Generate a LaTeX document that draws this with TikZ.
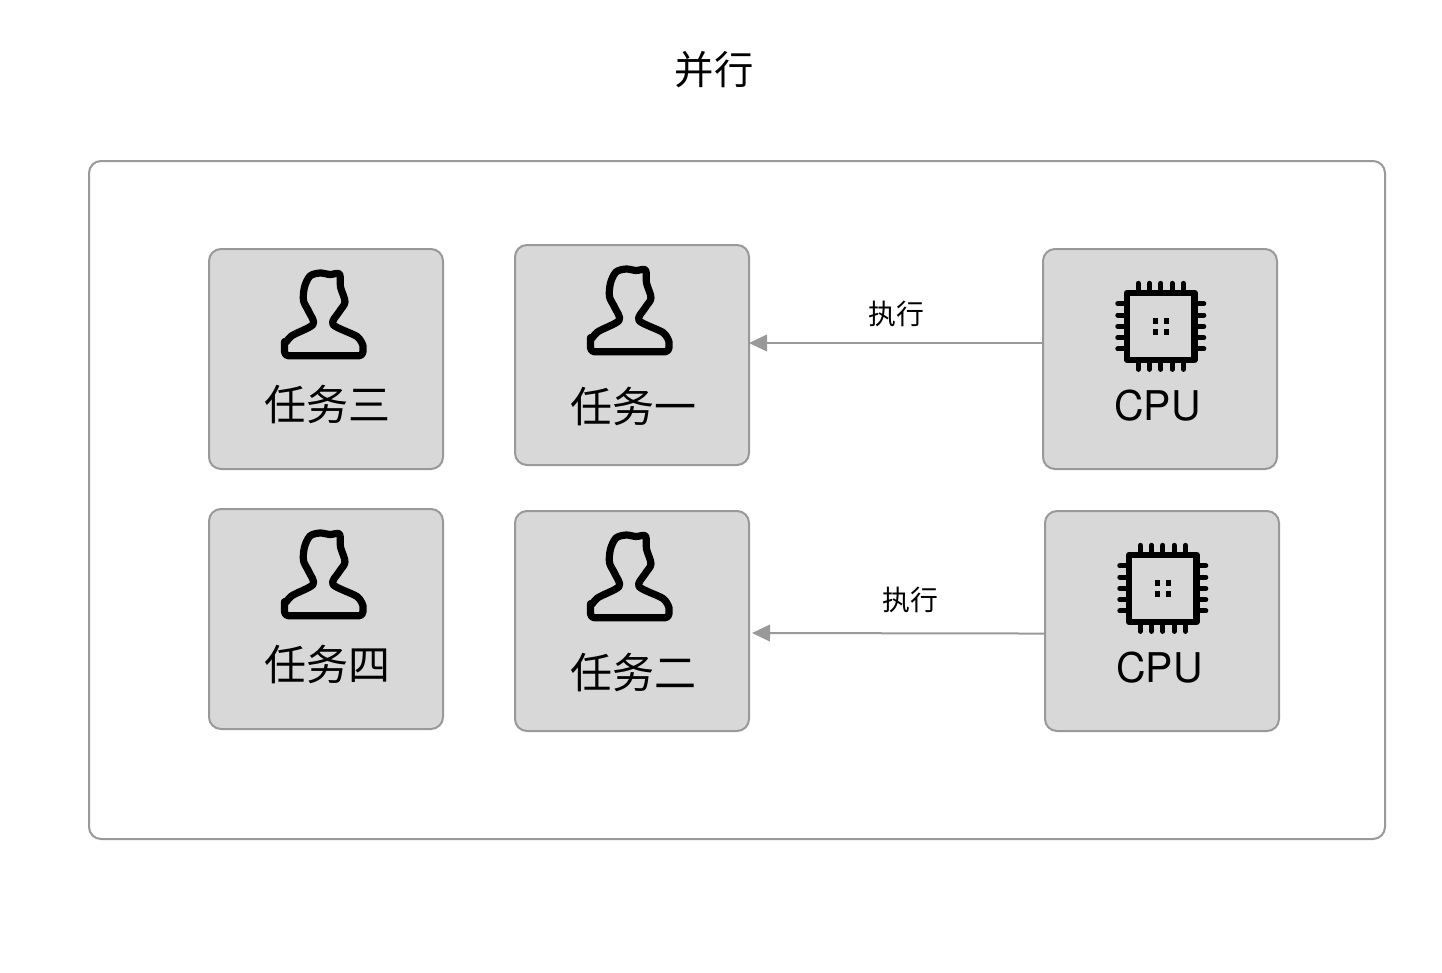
\documentclass[tikz,border=0pt]{standalone}
\usepackage{fontspec}
\setmainfont{TeX Gyre Heros}
\newfontfamily\cjk{Noto Sans CJK SC}
\usetikzlibrary{arrows.meta}
\definecolor{cardgray}{HTML}{D8D8D8}
\definecolor{linegray}{HTML}{999999}
\tikzstyle{frame}=[draw=linegray,line width=1.5pt,rounded corners=9pt,minimum width=972pt,minimum height=508.5pt]
\tikzstyle{card}=[draw=linegray,fill=cardgray,line width=1.5pt,rounded corners=9pt,minimum width=175.5pt,minimum height=165pt]
\tikzstyle{tasktext}=[font=\cjk\fontsize{31.5}{32}\selectfont,inner sep=0pt]
\tikzstyle{cputext}=[font=\fontsize{30.7}{31}\selectfont,inner sep=0pt]
\tikzstyle{runtext}=[font=\cjk\fontsize{20.9}{21}\selectfont,inner sep=0pt]
\tikzstyle{flow}=[draw=linegray,line width=1.5pt,-{Triangle[length=13.5pt,width=12.5pt]}]
\newcommand{\person}[1]{\draw[shift={(#1.center)},line width=5.4pt,line join=round] plot[smooth,tension=.5] coordinates {(-41.5,-13.3) (-34.5,-23) (-13,-34.5) (-17,-47) (-22.5,-58.3) (-21.5,-72) (-16,-83) (-6,-86) (4,-84.5) (13.5,-85) (14.5,-72) (19,-57) (13,-47) (7,-34.5) (31,-22.5) (37,-13.3)} [rounded corners=3pt] -- (37,-3.2) -- (-41.5,-3.2) -- cycle;}
\newcommand{\chip}[1]{\begin{scope}[shift={(#1.center)},yshift=24.5pt,xshift=0.6pt]
    \draw[line width=4.6pt,line join=round] (-33.7,-33.7) rectangle (33.7,33.7);
    \foreach \p in {-22.6,-11.3,0,11.3,22.6} {
        \draw[line width=3.8pt,line cap=round] (\p,-36) -- (\p,-43) (\p,36) -- (\p,43);
        \draw[line width=3.8pt,line cap=round] (-36,\p) -- (-43,\p) (36,\p) -- (43,\p);
    }
    \foreach \a in {-5.5,5.5} \foreach \b in {-5.5,5.5}
        \fill (\a-2.8,\b-2.8) rectangle (\a+2.8,\b+2.8);
\end{scope}}
\newcommand{\taskcard}[5]{\node[card] (#1) at (#2,#3) {}; \person{#1} \node[tasktext] (#1text) at (#2+1,#3+#4) {#5};}
\newcommand{\cpucard}[3]{\node[card] (#1) at (#2,#3) {}; \chip{#1} \node[cputext] (#1text) at (#2-2.5,#3+46.5) {CPU};}

\begin{document}
\begin{tikzpicture}[x=0.75pt,y=-0.75pt]
    \useasboundingbox (0,0) rectangle (1442,972);
    \node[font=\cjk\fontsize{29.5}{30}\selectfont,inner sep=0pt] (title) at (714,70) {并行};
    \node[frame] (outer) at (737,500) {};

    \taskcard{task3}{326}{359}{46}{任务三}
    \taskcard{task1}{632}{355}{52}{任务一}
    \taskcard{task4}{326}{619}{46}{任务四}
    \taskcard{task2}{632}{621}{52}{任务二}
    \cpucard{cpu1}{1160}{359}
    \cpucard{cpu2}{1162}{621}

    \draw[flow] ([yshift=12pt]cpu1.west) -- ([xshift=-0.75pt,yshift=9pt]task1.east);
    \draw[flow] ([yshift=-9.4pt]cpu2.west) -- ([xshift=1.5pt,yshift=-9pt]task2.east);
    \node[runtext] (run1) at (896,314) {执行};
    \node[runtext] (run2) at (910,600) {执行};
\end{tikzpicture}
\end{document}
